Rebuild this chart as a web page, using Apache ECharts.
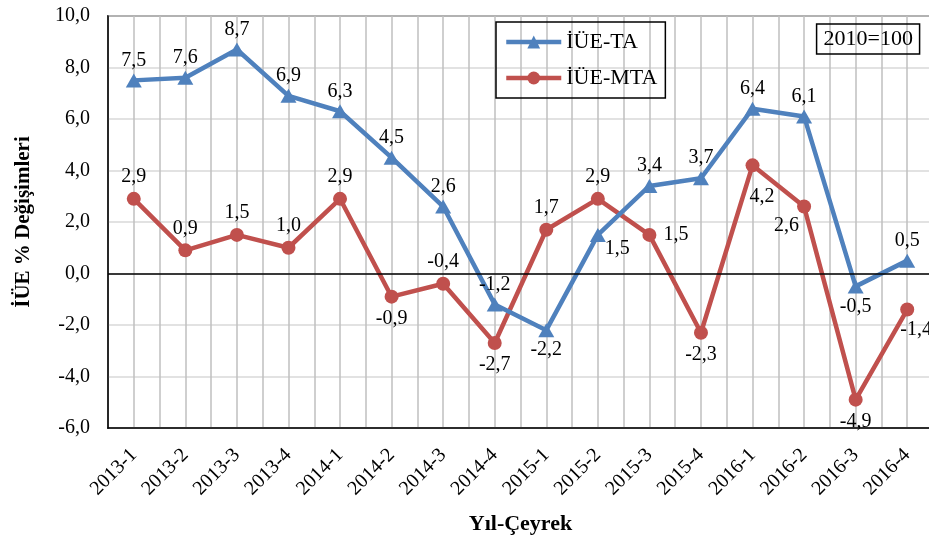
<!DOCTYPE html>
<html>
<head>
<meta charset="utf-8">
<script src="https://cdn.jsdelivr.net/npm/echarts@6/dist/echarts.min.js"></script>
<style>
  html, body { margin: 0; padding: 0; background: #fff; }
  #chart { width: 929px; height: 540px; }
</style>
</head>
<body>
<div id="chart"></div>
<script>
var quarters = ['2013-1', '2013-2', '2013-3', '2013-4', '2014-1', '2014-2', '2014-3', '2014-4',
                '2015-1', '2015-2', '2015-3', '2015-4', '2016-1', '2016-2', '2016-3', '2016-4'];
var iueTA = [7.5, 7.6, 8.7, 6.9, 6.3, 4.5, 2.6, -1.2, -2.2, 1.5, 3.4, 3.7, 6.4, 6.1, -0.5, 0.5];
var iueMTA = [2.9, 0.9, 1.5, 1.0, 2.9, -0.9, -0.4, -2.7, 1.7, 2.9, 1.5, -2.3, 4.2, 2.6, -4.9, -1.4];
var yTicks = { min: -6, max: 10, step: 2 };

(function() {
  var serif = '"Liberation Serif", "DejaVu Serif", serif';
  var blue = '#4f81bd';
  var red = '#c0504d';

  function fmt(v) { return v.toFixed(1).replace('.', ','); }

  // label placement per point (index -> position)
  var taPos = { 8: 'bottom', 9: [15, 11], 14: 'bottom' };
  var mtaPos = { 5: 'bottom', 7: 'bottom', 10: [21, -3], 11: 'bottom', 12: [4, 28], 13: [-23, 16], 14: 'bottom', 15: [0, 17] };

  function build(values, posMap) {
    return values.map(function(v, i) {
      var item = { value: v };
      if (posMap[i]) item.label = { position: posMap[i] };
      return item;
    });
  }

  var halfSlots = [];
  for (var i = 0; i < quarters.length * 2; i++) halfSlots.push('');

  var chart = echarts.init(document.getElementById('chart'), null, { renderer: 'canvas' });
  chart.setOption({
    animation: false,
    textStyle: { fontFamily: serif },
    grid: {
      left: 108, top: 16, width: 825, height: 412,
      outerBoundsMode: 'none', containLabel: false,
      show: true, borderColor: '#000', borderWidth: 1.5
    },
    title: {
      text: '2010=100',
      right: 9, top: 24,
      borderColor: '#000', borderWidth: 1.5,
      padding: [4, 7, 4, 7],
      textStyle: { fontFamily: serif, fontSize: 22, fontWeight: 'normal', color: '#000' }
    },
    legend: {
      orient: 'vertical',
      left: 496, top: 22,
      borderColor: '#000', borderWidth: 1.5,
      padding: [9, 8, 9, 8],
      itemWidth: 55, itemHeight: 16, itemGap: 14,
      lineStyle: { width: 4.5 },
      textStyle: { fontFamily: serif, fontSize: 22, color: '#000' },
      data: ['İÜE-TA', 'İÜE-MTA']
    },
    xAxis: [{
      type: 'category',
      data: quarters,
      boundaryGap: true,
      name: 'Yıl-Çeyrek',
      nameLocation: 'middle',
      nameGap: 85,
      nameTextStyle: { fontFamily: serif, fontSize: 22, fontWeight: 'bold', color: '#000' },
      axisLine: { onZero: false, lineStyle: { color: '#000', width: 1.5 } },
      axisTick: { show: false },
      splitLine: { show: false },
      axisLabel: { rotate: 45, interval: 0, margin: 24, fontFamily: serif, fontSize: 20, color: '#000' }
    }, {
      type: 'category',
      data: halfSlots,
      position: 'bottom',
      boundaryGap: true,
      axisLine: { show: false },
      axisTick: { show: false },
      axisLabel: { show: false },
      splitLine: { show: true, interval: 0, lineStyle: { color: '#bfbfbf', width: 1.5 } }
    }],
    yAxis: {
      type: 'value',
      name: 'İÜE % Değişimleri',
      nameLocation: 'middle',
      nameGap: 74,
      nameTextStyle: { fontFamily: serif, fontSize: 21, fontWeight: 'bold', color: '#000' },
      min: yTicks.min, max: yTicks.max, interval: yTicks.step,
      axisLine: { show: true, lineStyle: { color: '#000', width: 1.5 } },
      axisTick: { show: false },
      splitLine: { lineStyle: { color: '#d9d9d9', width: 1.5 } },
      axisLabel: { margin: 18, fontFamily: serif, fontSize: 20, color: '#000', formatter: fmt }
    },
    series: [{
      name: 'İÜE-TA',
      type: 'line',
      data: build(iueTA, taPos),
      symbol: 'triangle',
      symbolSize: [16, 14],
      lineStyle: { color: blue, width: 4.5 },
      itemStyle: { color: blue },
      label: {
        show: true, position: 'top', distance: 3,
        fontFamily: serif, fontSize: 20, color: '#000',
        formatter: function(p) { return fmt(p.value); }
      },
      z: 3,
      markLine: {
        silent: true, symbol: 'none', label: { show: false },
        lineStyle: { color: '#000', width: 1.5, type: 'solid' },
        data: [{ yAxis: 0 }]
      }
    }, {
      name: 'İÜE-MTA',
      type: 'line',
      data: build(iueMTA, mtaPos),
      symbol: 'circle',
      symbolSize: 14,
      lineStyle: { color: red, width: 4.5 },
      itemStyle: { color: red },
      label: {
        show: true, position: 'top', distance: 5,
        fontFamily: serif, fontSize: 20, color: '#000',
        formatter: function(p) { return fmt(p.value); }
      },
      z: 2
    }]
  });
  window.addEventListener('resize', function() { chart.resize(); });
})();
</script>
</body>
</html>
